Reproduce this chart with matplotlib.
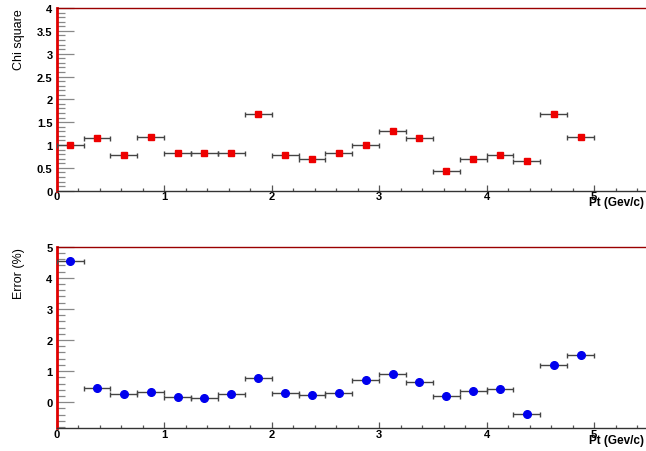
import matplotlib
matplotlib.use("Agg")
import matplotlib.pyplot as plt
from matplotlib.ticker import MultipleLocator
import numpy as np

plt.rcParams['font.family'] = ['Liberation Sans', 'DejaVu Sans']

pt_centers = [0.125, 0.375, 0.625, 0.875, 1.125, 1.375, 1.625, 1.875, 2.125, 2.375,
              2.625, 2.875, 3.125, 3.375, 3.625, 3.875, 4.125, 4.375, 4.625, 4.875]
pt_halfwidth = [0.125] * 20
chi_square = [0.99, 1.15, 0.78, 1.17, 0.83, 0.82, 0.83, 1.68, 0.77, 0.69,
              0.83, 1.00, 1.31, 1.15, 0.42, 0.69, 0.78, 0.64, 1.68, 1.17]
error_pct = [4.53, 0.47, 0.26, 0.34, 0.17, 0.13, 0.25, 0.78, 0.29, 0.24,
             0.28, 0.70, 0.92, 0.64, 0.20, 0.35, 0.41, -0.39, 1.20, 1.52]

fig = plt.figure(figsize=(6.46, 4.52), dpi=100)
ax1 = fig.add_axes([0.0878, 0.576, 0.915, 0.404])
ax2 = fig.add_axes([0.0878, 0.0509, 0.915, 0.401])


def style(ax, ymaj, ymin, xlab_y):
    ax.set_xlim(0, 5.5)
    ax.spines['right'].set_visible(False)
    ax.spines['left'].set_color('#e00000')
    ax.spines['left'].set_linewidth(2.0)
    ax.spines['top'].set_color('#9a0000')
    ax.spines['top'].set_linewidth(1.0)
    ax.spines['bottom'].set_color('#333333')
    ax.spines['bottom'].set_linewidth(1.0)
    ax.xaxis.set_major_locator(MultipleLocator(1))
    ax.xaxis.set_minor_locator(MultipleLocator(0.2))
    ax.yaxis.set_minor_locator(MultipleLocator(ymin))
    ax.tick_params(axis='y', which='major', direction='in', length=12, width=0.9,
                   color='#888888', pad=3, labelsize=8)
    ax.tick_params(axis='y', which='minor', direction='in', length=5.8, width=0.9,
                   color='#888888')
    ax.tick_params(axis='x', which='major', direction='in', length=4, width=0.9,
                   color='#555555', pad=0.5, labelsize=8)
    ax.tick_params(axis='x', which='minor', direction='in', length=2.2, width=0.9,
                   color='#555555')
    ax.set_xticks([0, 1, 2, 3, 4, 5])
    ax.set_xticklabels(['0', '1', '2', '3', '4', '5'], fontweight='bold')
    ax.set_xlabel('Pt (Gev/c)', fontsize=8.5, fontweight='bold', loc='right')
    ax.xaxis.set_label_coords(0.9935, xlab_y)


style(ax1, 0.5, 0.1, -0.028)
ax1.set_ylim(0, 4)
ax1.set_yticks([0, 0.5, 1, 1.5, 2, 2.5, 3, 3.5, 4])
ax1.set_yticklabels(['0', '0.5', '1', '1.5', '2', '2.5', '3', '3.5', '4'], fontweight='bold')
ax1.set_ylabel('Chi square', fontsize=9, loc='top')
ax1.yaxis.set_label_coords(-0.054, 1.0)
ax1.errorbar(pt_centers, chi_square, xerr=pt_halfwidth, fmt='s', color='#ee0000',
             markersize=5, ecolor='#444444', elinewidth=1, capsize=1.8, capthick=1,
             zorder=3)

style(ax2, 1, 0.2, -0.035)
ax2.set_ylim(-0.83, 5)
ax2.set_yticks([0, 1, 2, 3, 4, 5])
ax2.set_yticklabels(['0', '1', '2', '3', '4', '5'], fontweight='bold')
ax2.set_ylabel('Error (%)', fontsize=9, loc='top')
ax2.yaxis.set_label_coords(-0.054, 1.0)
ax2.errorbar(pt_centers, error_pct, xerr=pt_halfwidth, fmt='o', color='#0000ee',
             markersize=5.5, ecolor='#444444', elinewidth=1, capsize=1.8, capthick=1,
             zorder=3)

fig.savefig('out.png', dpi=100)
